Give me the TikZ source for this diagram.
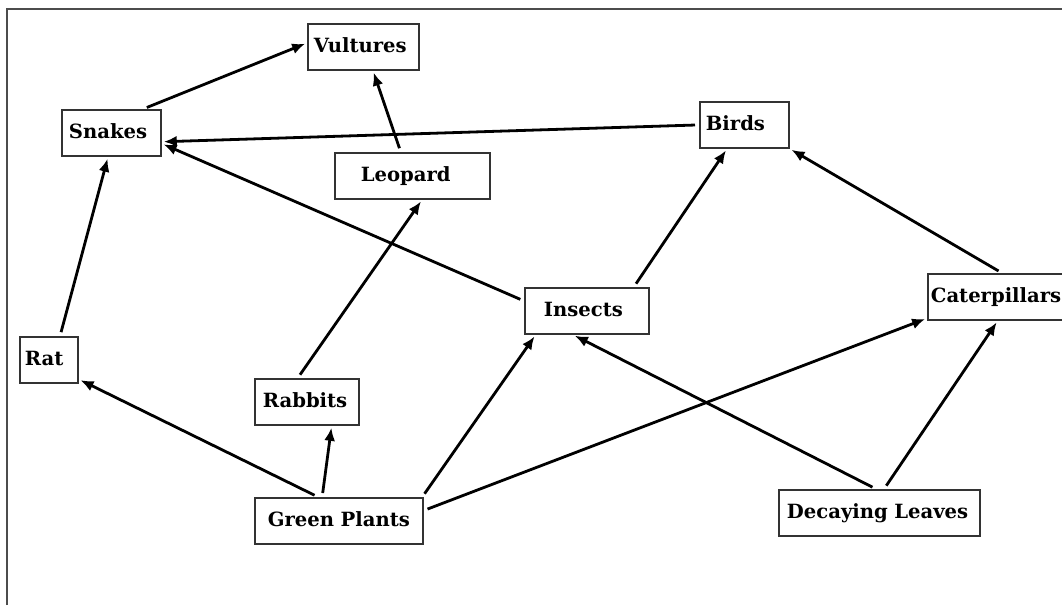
\documentclass[tikz,border=0pt]{standalone}
\usepackage{fontspec}
\setmainfont{DejaVu Serif}
\usetikzlibrary{arrows.meta,positioning}

\tikzset{
  organism/.style={draw=black!80, line width=1.8pt, anchor=north west,
    minimum height=46pt, inner ysep=0pt, align=left,
    text height=15pt, text depth=3pt,
    font=\fontsize{19.6}{21}\selectfont\bfseries},
  feeds/.style={line width=2.8pt, -{Latex[length=13pt,width=11pt]},
    shorten <=4pt, shorten >=2pt}
}

\begin{document}
\begin{tikzpicture}[x=1pt, y=-1pt]
    \useasboundingbox (0,0) rectangle (1062,605);

    % Frame
    \draw[line width=1.6pt, black!70] (7,605) -- (7,9) -- (1062,9);

    % Organisms
    \foreach \id/\x/\y/\w/\pad/\txt in {
        vult/307/23/111/6/Vultures,
        snak/61/109/99/7/Snakes,
        leop/334/152/155/26/Leopard,
        bird/699/101/89/6/Birds,
        inse/524/287/124/19/Insects,
        cate/927/273/138/3/Caterpillars,
        rat/19/336/58/5/Rat,
        rabb/254/378/104/8/Rabbits,
        gree/254/497/168/13/Green Plants,
        deca/778/489/201/8/Decaying Leaves} {
        \pgfmathsetmacro\tw{\w-2*\pad}
        \node[organism, text width=\tw pt, inner xsep=\pad pt] (\id) at (\x,\y) {\mbox{\txt}};
    }

    % Who is eaten by whom
    \foreach \from/\to in {
        snak.37/vult.176, leop.116/vult.-68,
        bird.west/snak.-10, inse.171/snak.-12, rat.65/snak.-98,
        rabb.111/leop.-68,
        inse.27/bird.234, cate.78/bird.south east,
        gree.131/rat.-33, gree.125/rabb.-44, gree.16/inse.205, gree.7/cate.197,
        deca.98/inse.240, deca.79/cate.-88} {
        \draw[feeds] (\from) -- (\to);
    }
\end{tikzpicture}
\end{document}
